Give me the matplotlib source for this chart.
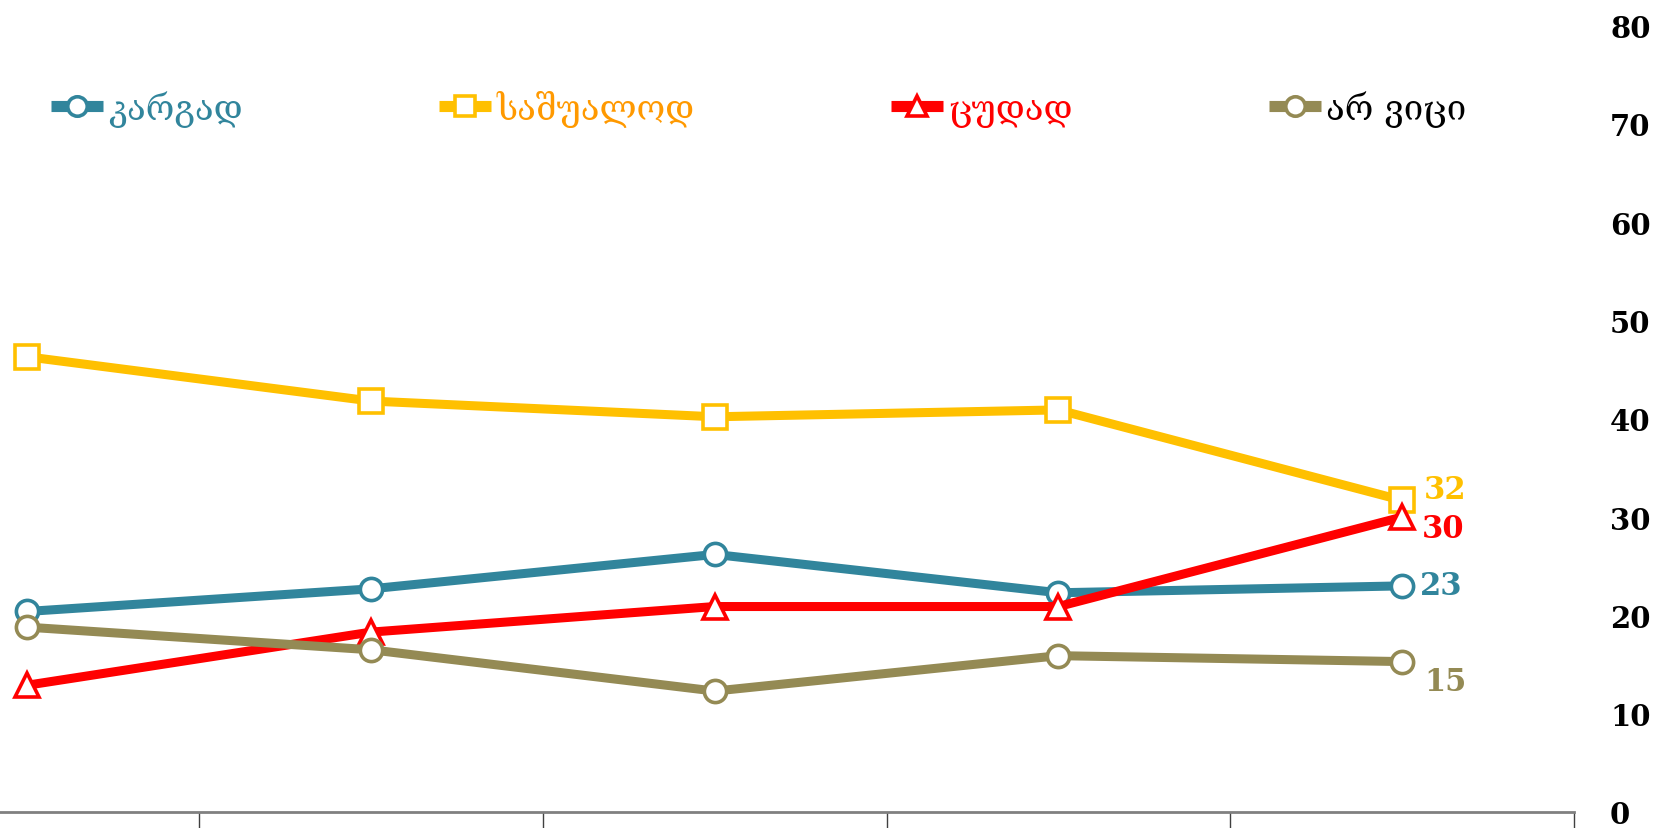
import matplotlib
matplotlib.use("Agg")
import matplotlib.pyplot as plt

# Five survey waves (category labels are not shown in the original)
waves = [0, 1, 2, 3, 4]

# Series values
good = [20.4, 22.7, 26.2, 22.3, 23.0]      # კარგად
average = [46.3, 41.8, 40.2, 40.9, 31.7]   # საშუალოდ
bad = [12.9, 18.3, 20.9, 20.9, 30.0]       # ცუდად
dont_know = [18.8, 16.5, 12.3, 15.9, 15.3] # არ ვიცი

series_names = ["კარგად", "საშუალოდ", "ცუდად", "არ ვიცი"]
end_labels = ["23", "32", "30", "15"]

y_ticks = [0, 10, 20, 30, 40, 50, 60, 70, 80]

COLORS = ["#31859C", "#FFC000", "#FF0000", "#948A54"]
TEXT_COLORS = ["#31859C", "#FF9900", "#FF0000", "#000000"]
MARKERS = ["o", "s", "^", "o"]
# pixel offsets of the end labels (dx, dy)
END_OFFSETS = [(18, 0), (22, 11), (20, -11), (22, -20)]

W, H, DPI = 1660, 829, 100
fig = plt.figure(figsize=(W / DPI, H / DPI), dpi=DPI)
ax = fig.add_axes([0, 16 / H, 1574 / W, (813 - 26.5) / H])

handles = []
for vals, color, marker in zip([good, average, bad, dont_know], COLORS, MARKERS):
    ms = 16 if marker == "o" else 17
    (h,) = ax.plot(waves, vals, color=color, lw=6.5, marker=marker,
                   markersize=ms, markerfacecolor="white",
                   markeredgecolor=color, markeredgewidth=2.6,
                   solid_capstyle="butt", zorder=3)
    handles.append(h)

for vals, lab, color, (dx, dy) in zip([good, average, bad, dont_know],
                                      end_labels, COLORS, END_OFFSETS):
    ax.annotate(lab, (waves[-1], vals[-1]), xytext=(dx, dy),
                textcoords="offset pixels", ha="left", va="center",
                color=color, fontsize=22, fontweight="bold",
                family="DejaVu Serif", zorder=4)

ax.set_xlim(-27.5 / 344, 4.5)
ax.set_ylim(0, 80)

# right-hand value axis, no spine
ax.yaxis.tick_right()
ax.set_yticks(y_ticks)
ax.set_yticklabels([str(v) for v in y_ticks], fontsize=21, fontweight="bold",
                   family="DejaVu Serif")
ax.tick_params(axis="y", length=0, pad=26)

# category separators hanging below the base line
ax.set_xticks([0.5, 1.5, 2.5, 3.5, 4.5])
ax.set_xticklabels([])
ax.tick_params(axis="x", direction="out", length=12, width=1, color="#404040")

for side in ["top", "right", "left"]:
    ax.spines[side].set_visible(False)
ax.spines["bottom"].set_color("#808080")
ax.spines["bottom"].set_linewidth(2)

leg = fig.legend(handles, series_names, loc="center left",
                 bbox_to_anchor=(51 / W, 1 - 109 / H), ncol=4,
                 frameon=False, borderpad=0, borderaxespad=0,
                 handlelength=1.5, handletextpad=0.15, columnspacing=5.65,
                 prop={"family": "DejaVu Serif", "size": 25})
for txt, c in zip(leg.get_texts(), TEXT_COLORS):
    txt.set_color(c)
for lh in leg.legend_handles:
    lh.set_markersize(14)
    lh.set_linewidth(8)

fig.savefig("out.png", dpi=DPI)
